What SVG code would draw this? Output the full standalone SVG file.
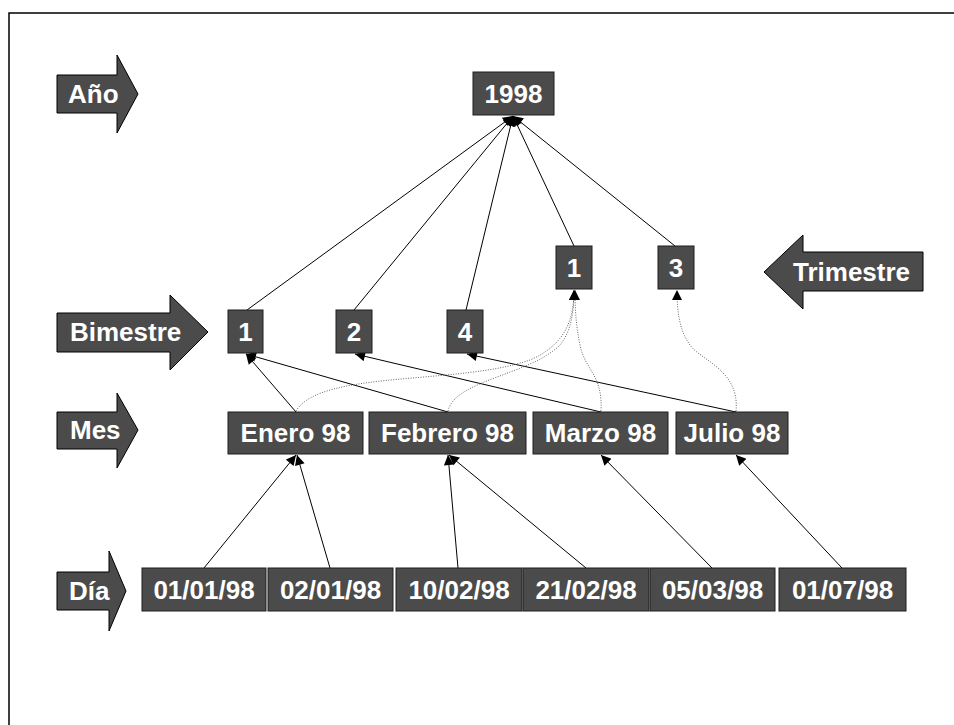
<svg xmlns="http://www.w3.org/2000/svg" width="954" height="725" viewBox="0 0 954 725">
  <style>
    .box { fill: #4b4b4b; stroke: #1e1e1e; stroke-width: 1; }
    .lvl { fill: #4b4b4b; stroke: #000; stroke-width: 1; }
    .t { font-family: "Liberation Sans", Arial, sans-serif; font-weight: bold; font-size: 26px; fill: #fff; }
    .c { text-anchor: middle; }
    .edge { fill: none; stroke: #000; stroke-width: 1; marker-end: url(#ah); }
    .dot { fill: none; stroke: #666; stroke-width: 1; stroke-dasharray: 1 1.5; marker-end: url(#ah); }
  </style>
  <defs>
    <marker id="ah" viewBox="0 0 10 10" refX="10" refY="5" markerWidth="11" markerHeight="10" orient="auto" markerUnits="userSpaceOnUse">
      <path d="M0,0 L10,5 L0,10 z" fill="#000"/>
    </marker>
  </defs>

  <!-- frame -->
  <path d="M9,725 L9,13 L954,13" fill="none" stroke="#000" stroke-width="1.5"/>

  <!-- level labels -->
  <g id="lvl-anio">
    <polygon class="lvl" points="57,75 117,75 117,55 138,94 117,133 117,113 57,113"/>
    <text class="t" x="68" y="103">Año</text>
  </g>
  <g id="lvl-bimestre">
    <polygon class="lvl" points="57,313 170,313 170,295 208,332 170,370 170,352 57,352"/>
    <text class="t" x="70" y="341">Bimestre</text>
  </g>
  <g id="lvl-trimestre">
    <polygon class="lvl" points="923,252 803,252 803,235 764,272 803,309 803,291 923,291"/>
    <text class="t" x="793" y="281">Trimestre</text>
  </g>
  <g id="lvl-mes">
    <polygon class="lvl" points="57,412 117,412 117,393 138,430 117,468 117,449 57,449"/>
    <text class="t" x="70" y="439">Mes</text>
  </g>
  <g id="lvl-dia">
    <polygon class="lvl" points="57,572 109,572 109,551 126,591 109,631 109,610 57,610"/>
    <text class="t" x="69" y="600">Día</text>
  </g>

  <!-- connectors -->
  <g id="connectors">
    <!-- bimestre / trimestre to year -->
    <line class="edge" x1="247" y1="310" x2="513" y2="116"/>
    <line class="edge" x1="354" y1="310" x2="513" y2="116"/>
    <line class="edge" x1="466" y1="310" x2="513" y2="116"/>
    <line class="edge" x1="574" y1="246" x2="513" y2="116"/>
    <line class="edge" x1="675" y1="246" x2="513" y2="116"/>
    <!-- month to bimestre -->
    <line class="edge" x1="296" y1="412" x2="246" y2="354"/>
    <line class="edge" x1="448" y1="412" x2="246" y2="354"/>
    <line class="edge" x1="601" y1="412" x2="355" y2="354"/>
    <line class="edge" x1="736" y1="412" x2="467" y2="354"/>
    <!-- month to trimestre (dotted) -->
    <path class="dot" d="M296,411 C320,370 460,385 530,360 C565,345 574,320 574,290"/>
    <path class="dot" d="M448,411 C455,380 530,375 560,345 C572,330 574,310 574,290"/>
    <path class="dot" d="M601,411 C603,375 585,370 580,345 C576,325 575,310 575,290"/>
    <path class="dot" d="M736,411 C740,370 700,360 690,345 C679,330 677,310 677,290"/>
    <!-- day to month -->
    <line class="edge" x1="204" y1="568" x2="296" y2="455"/>
    <line class="edge" x1="330" y1="568" x2="297" y2="455"/>
    <line class="edge" x1="458" y1="568" x2="448" y2="455"/>
    <line class="edge" x1="586" y1="568" x2="449" y2="455"/>
    <line class="edge" x1="712" y1="568" x2="601" y2="455"/>
    <line class="edge" x1="842" y1="568" x2="736" y2="455"/>
  </g>

  <!-- year -->
  <g id="n-1998">
    <rect class="box" x="473" y="72" width="81" height="43"/>
    <text class="t c" x="513.5" y="103">1998</text>
  </g>

  <!-- bimestres -->
  <g id="n-bim-1">
    <rect class="box" x="228" y="310" width="35" height="43"/>
    <text class="t c" x="245.5" y="341">1</text>
  </g>
  <g id="n-bim-2">
    <rect class="box" x="336" y="310" width="36" height="43"/>
    <text class="t c" x="354" y="341">2</text>
  </g>
  <g id="n-bim-4">
    <rect class="box" x="447" y="310" width="36" height="43"/>
    <text class="t c" x="465" y="341">4</text>
  </g>

  <!-- trimestres -->
  <g id="n-tri-1">
    <rect class="box" x="556" y="246" width="36" height="43"/>
    <text class="t c" x="574" y="277">1</text>
  </g>
  <g id="n-tri-3">
    <rect class="box" x="658" y="246" width="36" height="43"/>
    <text class="t c" x="676" y="277">3</text>
  </g>

  <!-- months -->
  <g id="n-enero">
    <rect class="box" x="228" y="412" width="135" height="42"/>
    <text class="t c" x="295.5" y="442">Enero 98</text>
  </g>
  <g id="n-febrero">
    <rect class="box" x="369" y="412" width="157" height="42"/>
    <text class="t c" x="447.5" y="442">Febrero 98</text>
  </g>
  <g id="n-marzo">
    <rect class="box" x="533" y="412" width="135" height="42"/>
    <text class="t c" x="600.5" y="442">Marzo 98</text>
  </g>
  <g id="n-julio">
    <rect class="box" x="676" y="412" width="112" height="42"/>
    <text class="t c" x="732" y="442">Julio 98</text>
  </g>

  <!-- days -->
  <g id="n-d1">
    <rect class="box" x="142" y="568" width="124" height="43"/>
    <text class="t c" x="204" y="599">01/01/98</text>
  </g>
  <g id="n-d2">
    <rect class="box" x="268" y="568" width="125" height="43"/>
    <text class="t c" x="330.5" y="599">02/01/98</text>
  </g>
  <g id="n-d3">
    <rect class="box" x="396" y="568" width="126" height="43"/>
    <text class="t c" x="459" y="599">10/02/98</text>
  </g>
  <g id="n-d4">
    <rect class="box" x="523" y="568" width="126" height="43"/>
    <text class="t c" x="586" y="599">21/02/98</text>
  </g>
  <g id="n-d5">
    <rect class="box" x="650" y="568" width="125" height="43"/>
    <text class="t c" x="712.5" y="599">05/03/98</text>
  </g>
  <g id="n-d6">
    <rect class="box" x="779" y="568" width="127" height="43"/>
    <text class="t c" x="842.5" y="599">01/07/98</text>
  </g>
</svg>
